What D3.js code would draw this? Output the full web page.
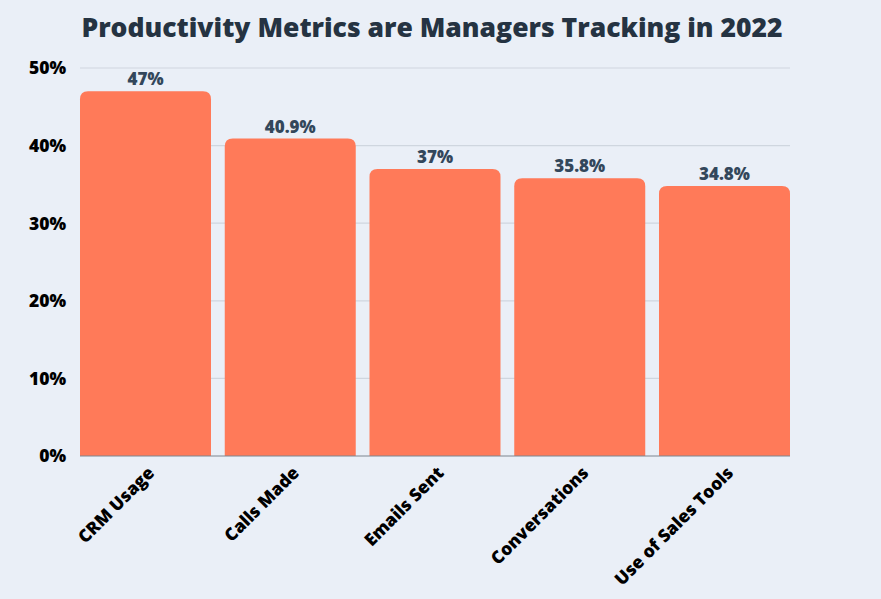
<!DOCTYPE html>
<html><head><meta charset="utf-8">
<script src="https://cdn.jsdelivr.net/npm/d3@7"></script>
<style>
html,body{margin:0;padding:0;background:#eaeff7;}
svg{display:block;}
</style></head>
<body>
<svg id="chart" width="881" height="599"></svg>
<script>
const categories = ["CRM Usage","Calls Made","Emails Sent","Conversations","Use of Sales Tools"];
const values = [47, 40.9, 37, 35.8, 34.8];
const valueLabels = ["47%","40.9%","37%","35.8%","34.8%"];
const yTicks = [0,10,20,30,40,50];
const title = "Productivity Metrics are Managers Tracking in 2022";

const W = 881, H = 599;
const m = {left:80, right:91, top:68, bottom:143};
const FONT = "'Open Sans', sans-serif";
const svg = d3.select("#chart");
svg.append("rect").attr("width",W).attr("height",H).attr("fill","#eaeff7");

const x = d3.scaleBand().domain(categories).range([m.left, W-m.right]).paddingInner(0.095).paddingOuter(0);
const y = d3.scaleLinear().domain([0,50]).range([H-m.bottom, m.top]);

// grid
svg.append("g").selectAll("line").data(yTicks.filter(d=>d>0)).join("line")
  .attr("x1", m.left).attr("x2", W-m.right)
  .attr("y1", d=>y(d)).attr("y2", d=>y(d))
  .attr("stroke","#cfd6df").attr("stroke-width",1.2);

// y labels
svg.append("g").selectAll("text").data(yTicks).join("text")
  .attr("x", 66).attr("y", d=>y(d)).attr("dy","0.36em")
  .attr("text-anchor","end")
  .attr("font-family",FONT).attr("font-weight","800").attr("font-size",17.5)
  .attr("fill","#000").text(d=>d+"%");

// bars with rounded top corners
const r = 8;
function barPath(d,i){
  const x0 = x(categories[i]), w = x.bandwidth(), y0 = y(d), y1 = y(0);
  return `M${x0},${y1}V${y0+r}Q${x0},${y0} ${x0+r},${y0}H${x0+w-r}Q${x0+w},${y0} ${x0+w},${y0+r}V${y1}Z`;
}
svg.append("g").selectAll("path").data(values).join("path")
  .attr("d", barPath).attr("fill","#ff7a59");

// baseline
svg.append("line").attr("x1",m.left).attr("x2",W-m.right)
  .attr("y1",y(0)).attr("y2",y(0)).attr("stroke","#7d8590").attr("stroke-width",1.2);

// value labels
svg.append("g").selectAll("text").data(values).join("text")
  .attr("x",(d,i)=>x(categories[i])+x.bandwidth()/2)
  .attr("y", d=>y(d)-6)
  .attr("text-anchor","middle")
  .attr("font-family",FONT).attr("font-weight","800").attr("font-size",17)
  .attr("fill","#33475b").text((d,i)=>valueLabels[i]);

// x labels
svg.append("g").selectAll("text").data(categories).join("text")
  .attr("transform", d=>`translate(${x(d)+x.bandwidth()/2+10},${y(0)+18}) rotate(-45)`)
  .attr("text-anchor","end")
  .attr("font-family",FONT).attr("font-weight","800").attr("font-size",17.5)
  .attr("fill","#000").text(d=>d);

// title
svg.append("text").attr("x", 432).attr("y", 37).attr("text-anchor","middle")
  .attr("font-family",FONT).attr("font-weight","800").attr("font-size",26.5)
  .attr("fill","#253342").text(title);
</script>
</body></html>
